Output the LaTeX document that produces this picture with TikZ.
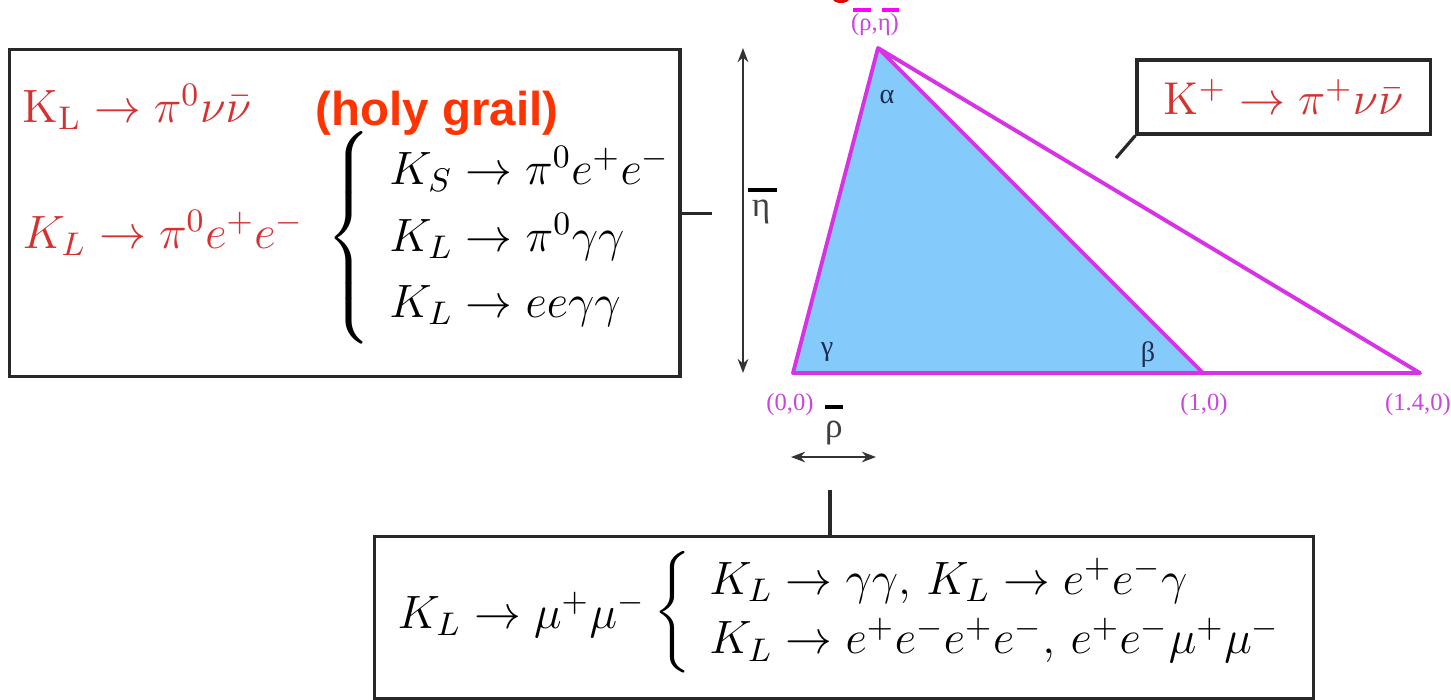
\RequirePackage{fix-cm}
\documentclass[tikz,border=0pt]{standalone}
\usepackage{amsmath}
\usepackage{fontspec}
\usetikzlibrary{arrows.meta}
\newfontfamily\lsans{Liberation Sans}
\newfontfamily\lserif{Liberation Serif}
\definecolor{fred}{RGB}{214,48,48}
\definecolor{hg}{RGB}{255,51,0}
\definecolor{tri}{RGB}{132,202,250}
\definecolor{mag}{RGB}{215,50,230}
\definecolor{labmag}{RGB}{200,70,220}
\definecolor{barmag}{RGB}{255,0,255}
\definecolor{greekc}{RGB}{30,45,80}
\definecolor{boxc}{RGB}{40,40,40}
\begin{document}
\begin{tikzpicture}[x=0.01cm,y=-0.01cm,
  box/.style={draw=boxc,line width=0.9pt,inner sep=0pt,fill=white},
  conn/.style={draw=boxc,line width=0.9pt},
  edgeline/.style={draw=mag,line width=1.1pt,line join=round},
  mathtxt/.style={inner sep=0pt,font=\fontsize{13.3}{15.5}\selectfont},
  lab/.style={inner sep=0pt,text=labmag,font=\lserif\fontsize{7}{8}\selectfont},
  ang/.style={inner sep=0pt,text=greekc,font=\lserif\fontsize{8}{9}\selectfont},
  axlab/.style={inner sep=0pt,text=black!75,font=\lserif\fontsize{10}{12}\selectfont},
  dimarrow/.style={draw=black!80,line width=0.8pt,{Stealth[length=4pt,width=3pt]}-{Stealth[length=4pt,width=3pt]}},
]
\useasboundingbox (0,0) rectangle (1451,699);

% cut-off red title fragment at top
\fill[red!90!black] (841,-1) ellipse [x radius=8,y radius=4];

% boxes
\node[box,minimum width=6.70cm,minimum height=3.27cm,anchor=north west] (leftbox) at (8,48) {};
\node[box,minimum width=2.93cm,minimum height=0.74cm,text=fred,font=\fontsize{13.1}{15.5}\selectfont] (kplus) at (1283.5,97) {$\mathrm{K}^+\to\pi^+\nu\bar\nu$};
\node[box,minimum width=9.38cm,minimum height=1.62cm,anchor=north west] (botbox) at (373,535) {};

% left box content
\node[mathtxt,text=fred,anchor=base west] (k1) at (22,122) {$\mathrm{K_L}\to\pi^0\nu\bar\nu$};
\node[inner sep=0pt,anchor=base west,text=hg,font=\lsans\bfseries\fontsize{13.5}{16}\selectfont] (holy) at (315,125) {(holy grail)};
\node[mathtxt,text=fred,anchor=base west] (k2) at (22,248) {$K_L\to\pi^0e^+e^-$};
\node[mathtxt,anchor=west] (klist) at (326,238) {$\renewcommand{\arraystretch}{1.22}\delimitershortfall=1pt\left\{\begin{array}{l}
 K_S\to\pi^0e^+e^-\\
 K_L\to\pi^0\gamma\gamma\\
 K_L\to ee\gamma\gamma
 \end{array}\right.$};

% bottom box content
\node[mathtxt,anchor=base west] (kmu) at (397,628) {$K_L\to\mu^+\mu^-$};
\node[mathtxt,anchor=west] (kmulist) at (653,612) {$\renewcommand{\arraystretch}{1.1}\delimitershortfall=0pt\left\{\begin{array}{l}
 K_L\to\gamma\gamma,\,K_L\to e^+e^-\gamma\\
 K_L\to e^+e^-e^+e^-,\,e^+e^-\mu^+\mu^-
 \end{array}\right.$};

% connectors
\coordinate (lend) at (712,212);
\draw[conn] (leftbox.east) -- (leftbox.east -| lend);
\coordinate (kend) at (1116,158);
\draw[conn] (kplus.south west) -- (kend);
\coordinate (bend) at (830,490);
\draw[conn] (bend |- botbox.north) -- (bend);

% triangle
\coordinate (O) at (793,373);
\coordinate (A) at (878,48);
\coordinate (B1) at (1203,373);
\coordinate (B2) at (1420,373);
\fill[tri] (O) -- (A) -- (B1) -- cycle;
\draw[edgeline] (B1) -- (O) -- (A) -- (B1) -- (B2) -- (A);

% angle labels
\node[ang] (alpha) at (887,97) {α};
\node[ang] (gamma) at (827,352) {γ};
\node[ang] (beta) at (1148,355) {β};

% vertex labels
\node[lab] (l00) at (790,405) {(0,0)};
\node[lab] (l10) at (1204,405) {(1,0)};
\node[lab] (l140) at (1418,405) {(1.4,0)};
\node[lab] (lapex) at (875,25) {(ρ,η)};
\draw[barmag,line width=1.3pt] (853,10) -- (871,10);
\draw[barmag,line width=1.3pt] (882,10) -- (899,10);

% eta axis
\coordinate (etaT) at (743,48);
\coordinate (etaB) at (743,373);
\draw[dimarrow] (etaT) -- (etaB);
\node[axlab] (etalab) at (761,212) {η};
\draw[black,line width=1.4pt] (748,190) -- (777,190);

% rho axis
\coordinate (rhoL) at (791,457);
\coordinate (rhoR) at (876,457);
\draw[dimarrow] (rhoL) -- (rhoR);
\node[axlab] (rholab) at (834,433) {ρ};
\draw[black,line width=1.4pt] (825,407) -- (843,407);
\end{tikzpicture}
\end{document}
